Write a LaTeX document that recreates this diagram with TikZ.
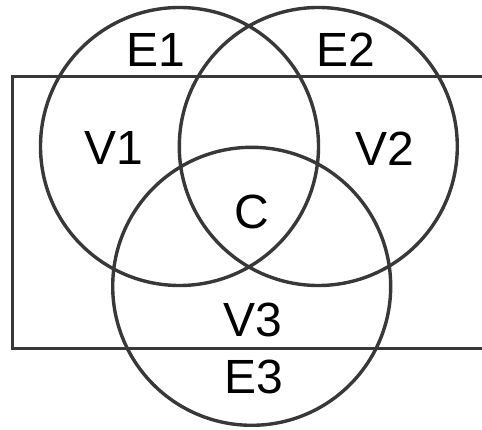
\documentclass[tikz,border=0pt]{standalone}
\usepackage{fontspec}
\setmainfont{Liberation Sans}
\begin{document}
\begin{tikzpicture}[x=1pt,y=-1pt,
  ring/.style={circle,draw=linegray,line width=3.4pt,minimum size=278pt,inner sep=0pt},
  lbl/.style={inner sep=0pt,anchor=base,font=\fontsize{48}{48}\selectfont}]
\definecolor{linegray}{HTML}{383838}
\useasboundingbox (0,0) rectangle (482,430);
\coordinate (tr) at (484,76.7);
\coordinate (tl) at (12.3,76.7);
\coordinate (bl) at (12.3,348.3);
\coordinate (br) at (484,348.3);
\draw[linegray,line width=3.4pt] (tr) -- (tl) -- (bl) -- (br);
\node[ring] (c1) at (179.5,146.5) {};
\node[ring] (c2) at (318.3,146.5) {};
\node[ring] (c3) at (251.7,286.3) {};
\node[lbl] (e1) at (155.5,67) {E1};
\node[lbl] (e2) at (346,67) {E2};
\node[lbl] (v1) at (114,165) {V1};
\node[lbl] (v2) at (385,165.5) {V2};
\node[lbl] (c) at (251.5,229) {C};
\node[lbl] (v3) at (252.5,336.5) {V3};
\node[lbl] (e3) at (254,393) {E3};
\end{tikzpicture}
\end{document}
